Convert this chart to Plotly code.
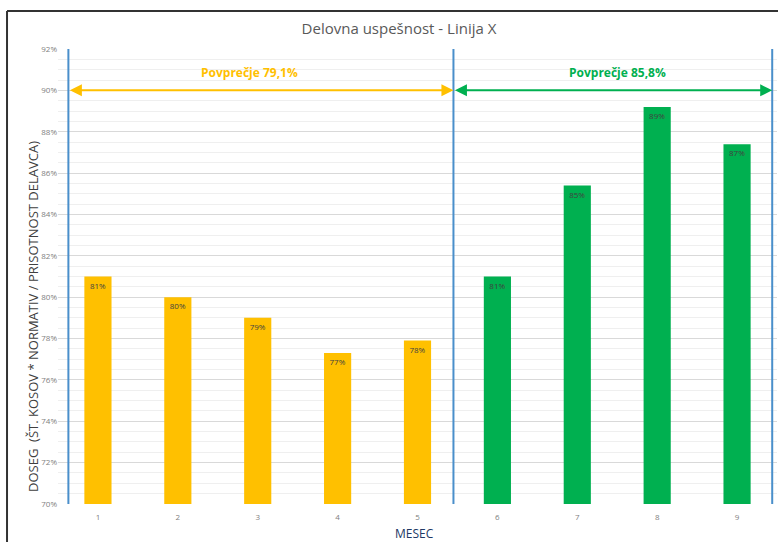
import plotly.graph_objects as go

months = [1, 2, 3, 4, 5, 6, 7, 8, 9]
values = [81.0, 80.0, 79.0, 77.3, 77.9, 81.0, 85.4, 89.2, 87.4]
labels = ["81%", "80%", "79%", "77%", "78%", "81%", "85%", "89%", "87%"]
group = ["A", "A", "A", "A", "A", "B", "B", "B", "B"]
colors_map = {"A": "#FFC000", "B": "#00B050"}
y_ticks = [70, 72, 74, 76, 78, 80, 82, 84, 86, 88, 90, 92]
y_tick_text = ["70%", "72%", "74%", "76%", "78%", "80%", "82%", "84%", "86%", "88%", "90%", "92%"]
avg_texts = ["Povprečje 79,1%", "Povprečje 85,8%"]
separators = [0.63, 5.45, 9.44]
avg_level = 90
y_base = 70

fig = go.Figure()
fig.add_trace(go.Bar(
    x=months, y=[v - y_base for v in values], base=y_base, text=labels,
    marker=dict(color=[colors_map[g] for g in group], line=dict(width=0)),
    width=0.34,
    textposition="inside", insidetextanchor="end",
    textfont=dict(size=8, color="#404040", family="Open Sans"),
    textangle=0,
    hoverinfo="skip",
))

shapes = []
for s in separators:
    shapes.append(dict(type="line", xref="x", yref="paper", x0=s, x1=s, y0=0, y1=1,
                       line=dict(color="#4A8FCB", width=2), layer="above"))
# frame
shapes.append(dict(type="line", xref="paper", yref="paper", x0=-0.0709, x1=-0.0709, y0=-0.2, y1=1.0835,
                   line=dict(color="#333333", width=2)))
shapes.append(dict(type="line", xref="paper", yref="paper", x0=-0.0709, x1=1.1, y0=1.0835, y1=1.0835,
                   line=dict(color="#333333", width=2)))

annotations = []
for (a, b, col) in [(separators[0], separators[1], "#FFC000"), (separators[1], separators[2], "#00B050")]:
    annotations.append(dict(x=b, y=avg_level, ax=a, ay=avg_level, xref="x", yref="y", axref="x", ayref="y",
                            showarrow=True, arrowhead=2, arrowside="end+start", arrowsize=1.2,
                            arrowwidth=2, arrowcolor=col, text=""))
annotations.append(dict(x=2.9, y=90.85, xref="x", yref="y", text="<b>" + avg_texts[0] + "</b>", showarrow=False,
                        font=dict(size=12, color="#FFC000", family="Open Sans")))
annotations.append(dict(x=7.5, y=90.85, xref="x", yref="y", text="<b>" + avg_texts[1] + "</b>", showarrow=False,
                        font=dict(size=12, color="#00B050", family="Open Sans")))
annotations.append(dict(x=(33 - 58) / 719, y=(504 - 317) / 455, xref="paper", yref="paper", textangle=-90,
                        xanchor="center", yanchor="middle", showarrow=False,
                        text="DOSEG  (ŠT. KOSOV * NORMATIV / PRISOTNOST DELAVCA)",
                        font=dict(size=13, color="#404040", family="Open Sans")))
annotations.append(dict(x=(414 - 58) / 719, y=-(533 - 504) / 455, xref="paper", yref="paper",
                        xanchor="center", yanchor="middle", showarrow=False, text="MESEC",
                        font=dict(size=12, color="#203864", family="Open Sans")))

fig.update_layout(
    width=778, height=542,
    margin=dict(l=58, r=1, t=49, b=38),
    paper_bgcolor="white", plot_bgcolor="white",
    showlegend=False,
    title=dict(text="Delovna uspešnost - Linija X", x=399 / 778, xref="container", xanchor="center",
               y=1 - 29 / 542, yanchor="middle",
               font=dict(size=15, color="#595959", family="Open Sans")),
    xaxis=dict(range=[0.5, 9.5], tickvals=months, ticktext=[str(m) for m in months],
               tickfont=dict(size=8, color="#808080", family="Open Sans"), showgrid=False,
               zeroline=False, showline=False, ticks="outside", ticklen=5, tickcolor="rgba(0,0,0,0)"),
    yaxis=dict(range=[70, 92], tickvals=y_ticks, ticktext=y_tick_text,
               tickfont=dict(size=8, color="#808080", family="Open Sans"),
               showgrid=True, gridcolor="#D9D9D9", gridwidth=1, zeroline=False, showline=False,
               minor=dict(dtick=0.5, showgrid=True, gridcolor="#EFEFEF", gridwidth=1)),
    shapes=shapes, annotations=annotations,
)
fig.write_html("out.html")
